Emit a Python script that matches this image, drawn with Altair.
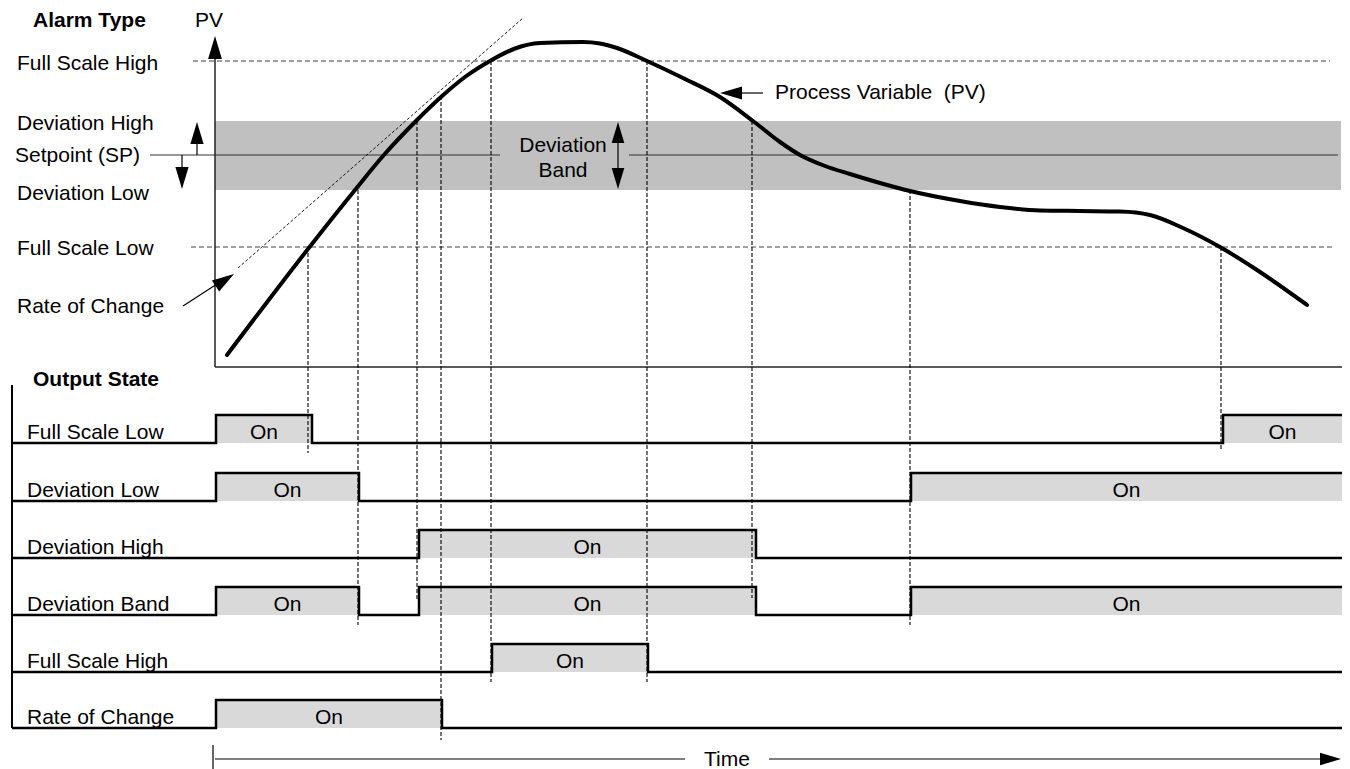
import altair as alt
import pandas as pd

FONT = "Liberation Sans"

# ---------------- data ----------------
# Process variable curve: time (left->right) and value (picture units, larger = lower)
pv_time = [227, 308, 355, 383, 417, 441, 465, 490, 515, 540, 583, 600, 617,
           647, 683, 720, 753, 780, 800, 825, 850, 880, 910, 960, 1000, 1040,
           1080, 1120, 1150, 1183, 1220, 1257, 1307]
pv_value = [355, 249, 190, 156, 120, 97, 77, 61, 48.5, 43, 42, 43.5, 48,
            61, 78, 97, 121, 142, 155, 166, 174, 183, 191, 201, 207, 210.5,
            211, 211.5, 215, 228, 247, 270, 305]

# Alarm levels
fsh_level, devhigh_level, sp_level, devlow_level, fsl_level = 61, 121, 155, 190, 247

# Rate of change tangent
roc_time = [238, 523]
roc_value = [268, 18]

# Left-side alarm type labels
alarm_labels = ["Full Scale High", "Deviation High", "Setpoint (SP)",
                "Deviation Low", "Full Scale Low", "Rate of Change"]
alarm_label_x = [17, 17, 15, 17, 17, 17]
alarm_label_y = [70, 130, 162, 200, 255, 313]

# Output state rows
rows = ["Full Scale Low", "Deviation Low", "Deviation High",
        "Deviation Band", "Full Scale High", "Rate of Change"]
row_base = [443, 501, 558, 615, 672, 728]
row_on_start = [[216, 1223], [216, 911], [419], [216, 419, 911], [492], [216]]
row_on_end = [[312, 1342], [359, 1342], [756], [359, 756, 1342], [648], [442]]
on_height = 28
row_start, row_end = 12, 1342

# Switching instants (dashed verticals)
switch_time = [308, 358, 417, 441, 491, 647, 752, 910, 1221]
switch_top = [247, 190, 121, 96, 61, 61, 121, 190, 247]
switch_bottom = [453, 625, 600, 740, 682, 682, 598, 625, 449]

# ---------------- scales ----------------
XS = alt.Scale(domain=[8, 1342], nice=False, zero=False)
YS = alt.Scale(domain=[769, 8], nice=False, zero=False)


def X(f):
    return alt.X(f + ":Q", scale=XS, axis=None)


def Y(f):
    return alt.Y(f + ":Q", scale=YS, axis=None)


def segs(data, **kw):
    df = pd.DataFrame(data, columns=["x", "y", "x2", "y2"])
    return alt.Chart(df).mark_rule(**kw).encode(
        x=X("x"), y=Y("y"), x2=alt.X2("x2"), y2=alt.Y2("y2"))


def texts(data, **kw):
    df = pd.DataFrame(data, columns=["x", "y", "t"])
    base = dict(font=FONT, fontSize=21, color="black", baseline="alphabetic", align="left")
    base.update(kw)
    return alt.Chart(df).mark_text(**base).encode(x=X("x"), y=Y("y"), text="t:N")


layers = []

# deviation band
band = pd.DataFrame({"x": [215], "x2": [1341], "y": [devhigh_level], "y2": [devlow_level]})
layers.append(alt.Chart(band).mark_rect(color="#c0c0c0").encode(
    x=X("x"), x2=alt.X2("x2"), y=Y("y"), y2=alt.Y2("y2")))

# on-state fills
fills = []
for r, base_y in enumerate(row_base):
    for a, b in zip(row_on_start[r], row_on_end[r]):
        fills.append({"x": a + 1, "x2": b, "y": base_y - on_height, "y2": base_y})
layers.append(alt.Chart(pd.DataFrame(fills)).mark_rect(color="#d9d9d9").encode(
    x=X("x"), x2=alt.X2("x2"), y=Y("y"), y2=alt.Y2("y2")))

# setpoint line
layers.append(segs([[150, sp_level, 500, sp_level], [629, sp_level, 1338, sp_level]],
                   color="#333333", strokeWidth=1.2))
# full-scale dashed levels
layers.append(segs([[193, fsh_level, 1330, fsh_level], [191, fsl_level, 1333, fsl_level]],
                   color="#444444", strokeWidth=1.2, strokeDash=[5, 3]))
# axes of the PV panel
layers.append(segs([[215, 367, 215, 55], [215, 367, 1342, 367]],
                   color="#222222", strokeWidth=1.5))
# output-state left line
layers.append(segs([[12, 385, 12, 728]], color="black", strokeWidth=2))

# switching dashed verticals
layers.append(segs([[t, a, t, b] for t, a, b in zip(switch_time, switch_top, switch_bottom)],
                   color="black", strokeWidth=1.1, strokeDash=[4, 2]))
# rate-of-change tangent
layers.append(segs([[roc_time[0], roc_value[0], roc_time[1], roc_value[1]]],
                   color="black", strokeWidth=0.9, strokeDash=[3, 2]))

# PV curve
pv = pd.DataFrame({"x": pv_time, "y": pv_value})
layers.append(alt.Chart(pv).mark_line(color="black", strokeWidth=4, interpolate="monotone",
                                      strokeCap="round").encode(x=X("x"), y=Y("y")))

# output step lines
steps = []
for r, (name, base_y) in enumerate(zip(rows, row_base)):
    pts = [(row_start, base_y)]
    on_y = base_y - on_height
    for a, b in zip(row_on_start[r], row_on_end[r]):
        pts += [(a, base_y), (a, on_y), (b, on_y)]
        if b < row_end:
            pts.append((b, base_y))
    if pts[-1][0] < row_end:
        pts.append((row_end, base_y))
    for i, (px, py) in enumerate(pts):
        steps.append({"row": name, "i": i, "x": px, "y": py})
layers.append(alt.Chart(pd.DataFrame(steps)).mark_line(color="black", strokeWidth=2.5).encode(
    x=X("x"), y=Y("y"), detail="row:N", order="i:Q"))

# arrow shafts
layers.append(segs([
    [197, 144, 197, sp_level],          # up small
    [182, sp_level, 182, 167],          # down small
    [618, 140, 618, 171],               # deviation band double arrow
    [740, 93, 763, 93],                 # PV label arrow
    [183, 306, 217, 284],               # rate of change label arrow
    [215, 759, 685, 759],               # time line left
    [769, 759, 1322, 759],              # time line right
    [213, 745, 213, 769],               # time start tick
], color="black", strokeWidth=1.2))

# arrow heads (tip positions)
ARROW = "M0,0L0.6,2L-0.6,2Z"
heads = pd.DataFrame({
    "x": [215, 197, 182, 618, 618, 720, 234, 1341],
    "y": [36, 122, 189, 122, 189, 93, 274, 759],
    "a": [0, 0, 180, 0, 180, 270, 57, 90],
    "s": [23 ** 2, 22 ** 2, 22 ** 2, 21 ** 2, 21 ** 2, 22 ** 2, 22 ** 2, 21 ** 2],
})
layers.append(alt.Chart(heads).mark_point(shape=ARROW, filled=True, color="black",
                                          opacity=1, strokeWidth=0).encode(
    x=X("x"), y=Y("y"), angle=alt.Angle("a:Q", scale=None), size=alt.Size("s:Q", scale=None)))

# texts
layers.append(texts([[33, 27, "Alarm Type"], [33, 386, "Output State"]], fontWeight="bold"))
layers.append(texts([[195, 27, "PV"], [775, 99, "Process Variable \u00a0(PV)"]] +
                    [[x, y, t] for x, y, t in zip(alarm_label_x, alarm_label_y, alarm_labels)] +
                    [[27, b - 4, n] for n, b in zip(rows, row_base)]))
on_txt = []
for r, base_y in enumerate(row_base):
    for a, b in zip(row_on_start[r], row_on_end[r]):
        on_txt.append([(a + b) / 2, base_y - 4, "On"])
layers.append(texts(on_txt + [[563, 152, "Deviation"], [563, 177, "Band"], [727, 766, "Time"]],
                    align="center"))

chart = alt.layer(*layers).properties(
    width=1334, height=761, padding=0,
    autosize=alt.AutoSizeParams(type="none"),
).configure_view(stroke=None)

chart.save("out.html", embed_options={"renderer": "svg", "actions": False})
